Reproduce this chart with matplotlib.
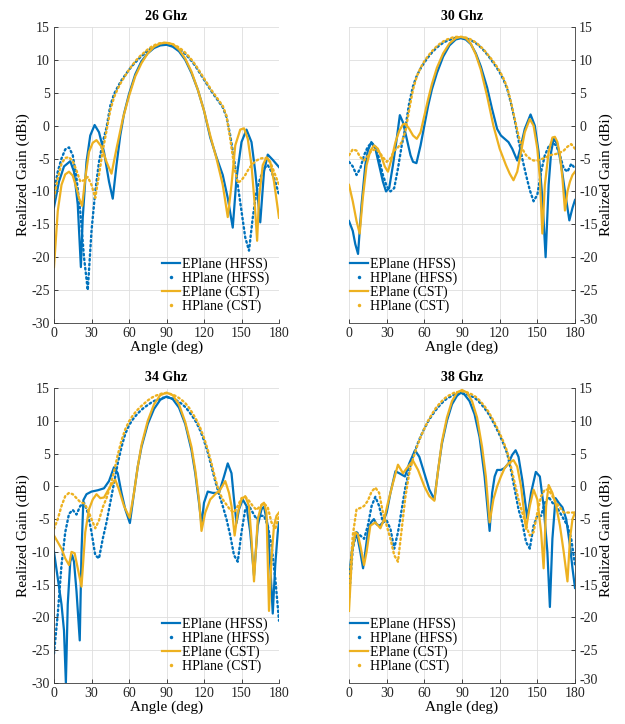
import numpy as np
import matplotlib
matplotlib.use('Agg')
import matplotlib.pyplot as plt
from matplotlib.lines import Line2D
from matplotlib.transforms import ScaledTranslation

# H-plane curves sampled every 3 degrees
h_angles = list(range(0, 181, 3))

# ---------------- 26 GHz ----------------
e26_hfss_ang = [0, 4, 8, 13, 16, 19, 21.5, 23, 26, 29,
                32.5, 36, 40, 44, 47, 50, 53, 56, 60, 65,
                70, 75, 80, 85, 90, 95, 100, 105, 110, 115,
                120, 125, 130, 135, 139, 143, 146, 150, 154, 158,
                161, 165, 168, 171, 175, 180]
e26_hfss = [-12.4, -8.5, -6.2, -5.4, -7, -12, -21.5, -14, -5.5, -1.5,
            0.1, -1, -4, -8.5, -11.1, -6, -1.5, 1.8, 4.8, 7.8,
            9.8, 11, 11.8, 12.2, 12.3, 12, 11.3, 10, 8, 5.5,
            2.3, -1.8, -4.8, -7.5, -11, -15.5, -8, -2.5, -0.6, -2.5,
            -7, -14.7, -7, -4.4, -5.2, -6.3]
e26_cst_ang = [0, 3, 6, 9, 12, 15, 18, 20, 22.5, 25,
               28, 31, 34, 38, 42, 46, 50, 55, 60, 65,
               70, 75, 80, 85, 90, 95, 100, 105, 110, 115,
               120, 125, 130, 135, 139, 142, 145, 149, 152, 155,
               158, 161, 162.5, 164, 167, 170, 173, 176, 180]
e26_cst = [-21.5, -13, -9, -7.4, -7, -7.6, -9.5, -11, -12.2, -8,
           -4, -2.6, -2.2, -3.2, -5.5, -7.3, -3.5, 1, 4.5, 7.5,
           9.5, 11, 12, 12.5, 12.6, 12.4, 11.6, 10.2, 8.2, 5.5,
           2.3, -1.5, -5, -9, -13.9, -9, -3, -0.6, -0.4, -2,
           -6, -13, -17.5, -11, -6, -4.8, -5.5, -8.5, -14]
h26_hfss = [-10, -7, -5, -3.6, -3.3, -4.5, -8, -13, -20, -25,
            -16, -10, -5.5, -2.5, -0.3, 3.0, 4.8, 5.9, 6.9, 7.7,
            8.5, 9.2, 9.8, 10.4, 10.9, 11.4, 11.8, 12.1, 12.3, 12.4,
            12.4, 12.3, 12.1, 11.8, 11.4, 10.9, 10.3, 9.6, 8.8, 7.9,
            7.0, 6.1, 5.2, 4.4, 3.6, 2.8, 1.3, -1.5, -5, -9,
            -13, -17, -19, -14, -10, -8, -6.5, -6, -7, -8.5,
            -10.5]
h26_cst = [-11, -8, -5.8, -4.9, -4.8, -5.4, -6.8, -8.5, -8.3, -7.8,
           -9, -11, -7.5, -3.8, -0.8, 2.3, 4.3, 5.6, 6.7, 7.6,
           8.5, 9.3, 10, 10.6, 11.1, 11.6, 12, 12.3, 12.5, 12.6,
           12.6, 12.5, 12.3, 12, 11.6, 11.1, 10.5, 9.8, 9, 8.1,
           7.2, 6.3, 5.4, 4.6, 3.8, 3, 1.5, -2, -6, -8.7,
           -8.3, -7.5, -6.5, -5.8, -5.3, -5, -4.9, -5, -6, -7.5,
           -9]

# ---------------- 30 GHz ----------------
e30_hfss_ang = [0, 3, 5, 7.2, 10, 13, 15, 17.8, 21, 24,
                27, 29.5, 32, 35, 38, 40.5, 43, 46, 49, 51,
                53.7, 57, 60, 63, 66, 70, 75, 80, 85, 89,
                93, 97, 101, 105, 110, 114, 118, 121, 124, 127,
                130, 134, 137, 140, 144.6, 148, 151, 154, 156.6, 159,
                161, 163, 166, 169, 172, 175.5, 178, 180]
e30_hfss = [-14.5, -16, -18, -19.5, -12, -6, -3.8, -2.5, -3.5, -6,
            -8.5, -10, -9.5, -6, -2, 1.6, 0.5, -2, -4.5, -5.5,
            -5.7, -3, 0, 3, 5.5, 8, 10.5, 12.2, 13.1, 13.3,
            13.1, 12.4, 11, 9, 5.8, 2.5, -0.5, -1.5, -2, -2.5,
            -3.5, -5.3, -3, -0.5, 1.7, 0, -4, -11, -20, -9,
            -4, -2, -2.8, -6, -10, -14.4, -12.5, -11.3]
e30_cst_ang = [0, 3, 6, 8.5, 11, 14, 17, 20, 23, 26,
               28.5, 31, 34, 37, 40, 43, 45, 48, 51, 54,
               57, 60, 63, 66, 70, 75, 80, 85, 89, 93,
               97, 101, 105, 110, 115, 120, 125, 128, 131, 134,
               137, 140, 144, 147, 150, 152, 154, 156, 159, 162,
               164, 166, 168, 170, 172, 174, 176, 178, 180]
e30_cst = [-9, -11.5, -14.5, -16.4, -11, -6, -3.8, -3, -3.5, -4.8,
           -6.2, -7, -5, -2.5, -0.8, 0.2, 0.3, -0.5, -1.5, -2,
           -1, 1.5, 4, 6.3, 8.8, 11, 12.5, 13.3, 13.5, 13.3,
           12.5, 10.8, 8.5, 4.5, 0, -3.5, -6, -7.3, -8.3, -7,
           -4, -1, 1, 0, -3.5, -8, -16.4, -9, -4, -1.8,
           -1.7, -2.5, -4.5, -8, -12.9, -10, -8.5, -7.5, -7]
h30_hfss = [-5.5, -6.2, -7.5, -6.5, -4.5, -3.2, -2.6, -3.2, -5, -7.5,
            -9.2, -10, -9.5, -6.5, -3, -0.2, 3.5, 6, 7.6, 8.7,
            9.6, 10.4, 11.1, 11.7, 12.2, 12.6, 12.9, 13.1, 13.3, 13.4,
            13.4, 13.3, 13.1, 12.8, 12.4, 11.9, 11.3, 10.6, 9.8, 9,
            8.1, 7, 5.6, 3.4, 0.8, -2.2, -5, -7.5, -9.8, -11.5,
            -10.5, -7, -4.5, -3.2, -2.6, -3, -4.5, -6.5, -7, -5.8,
            -6.5]
h30_cst = [-4.5, -3.6, -3.8, -4.8, -5.3, -4.6, -3.8, -3.6, -4, -4.8,
           -5.5, -5, -3.8, -3.3, -2.5, -0.8, 2.5, 5.5, 7.5, 8.8,
           9.8, 10.6, 11.3, 11.9, 12.4, 12.8, 13.1, 13.3, 13.5, 13.5,
           13.5, 13.4, 13.2, 12.9, 12.5, 12, 11.4, 10.7, 10, 9.2,
           8.3, 7.2, 5.8, 3.6, 1, -1.5, -3.5, -4.5, -5, -5.3,
           -5.3, -5.1, -4.9, -4.6, -4.4, -4.3, -4.1, -3.8, -3.2, -2.8,
           -3.5]

# ---------------- 34 GHz ----------------
e34_hfss_ang = [0, 3, 6, 8, 9.5, 11, 13, 14.5, 16, 18,
                20.6, 22, 23.5, 26, 30, 35, 40, 44, 48, 51,
                54, 57, 60.7, 64, 67, 70, 75, 80, 85, 90,
                95, 100, 105, 110, 113, 116, 118, 120, 123, 127,
                132, 136, 139, 142, 144, 146, 148, 151, 154, 157,
                160, 163, 166, 168, 171, 173, 175, 177, 179, 180]
e34_hfss = [-10, -14, -18, -22, -30, -18, -11.5, -10.5, -11.5, -16,
            -23.5, -10, -2.1, -1.2, -0.8, -0.6, -0.3, 0.8, 2.9, 2,
            -1, -3.5, -5.6, -1, 3, 6, 9.5, 11.8, 13.2, 13.7,
            13.3, 12, 9.5, 5.5, 2, -2.5, -5.8, -2.5, -0.8, -1,
            -1, 1.5, 3.5, 2, -2, -5.6, -3.5, -2, -3, -7,
            -13.6, -6, -3.5, -3.1, -6, -12, -19.4, -12, -7, -5.5]
e34_cst_ang = [0, 3, 6, 9, 12, 14, 16.5, 19, 22, 25,
               28, 31, 34, 37, 40, 45, 49, 52, 56, 60.5,
               64, 67, 70, 75, 80, 85, 90, 95, 100, 105,
               110, 113, 116, 118, 121, 125, 129, 133, 137, 140,
               142, 144.5, 147, 150, 153, 156, 158, 160, 163, 166,
               168, 170, 172, 174, 176, 178, 180]
e34_cst = [-7.5, -8.5, -9.5, -11, -12, -10, -10.2, -12.5, -15.3, -7,
           -3.5, -2, -1.2, -1.8, -1.7, 0, 1, -0.5, -3, -4.8,
           -1, 3, 6.3, 10, 12.5, 13.9, 14.3, 13.9, 12.5, 9.8,
           6, 2.5, -2, -6.8, -4, -2, -1.2, -0.5, 0.8, -1,
           -3, -7.5, -4, -2, -1.5, -3, -8, -14.5, -5, -2.8,
           -2.5, -4, -19, -11, -6, -4.5, -4]
h34_hfss = [-25.5, -19.5, -12, -7, -4.2, -3.6, -4.3, -3, -2.5, -4,
            -7, -10.5, -11, -8, -5.5, -2.5, 0.5, 3.5, 6, 8,
            9.3, 10.2, 10.9, 11.5, 12, 12.4, 12.8, 13.1, 13.3, 13.5,
            13.6, 13.5, 13.3, 13, 12.6, 12.1, 11.4, 10.6, 9.7, 8.5,
            7, 5.2, 3, 0.8, -1.2, -3, -5, -7.5, -10.5, -11.5,
            -7, -3.5, -3, -4, -5, -4.5, -4.5, -6, -9, -14,
            -20.5]
h34_cst = [-6.5, -5, -3, -1.5, -1, -1.2, -1.8, -2.4, -2.6, -3.5,
           -5, -6.4, -5.2, -3.2, -1.8, 0, 2.2, 4.8, 7, 8.7,
           9.9, 10.8, 11.5, 12.1, 12.6, 13.1, 13.5, 13.8, 14, 14.2,
           14.2, 14.1, 13.9, 13.6, 13.2, 12.7, 12, 11.1, 10.1, 8.9,
           7.4, 5.6, 3.5, 1.2, -0.8, -2, -2.8, -3.6, -4, -3,
           -1.8, -1.6, -2.2, -3, -3.6, -3, -2.6, -3.2, -5.5, -6.5,
           -4.5]

# ---------------- 38 GHz ----------------
e38_hfss_ang = [0, 2.5, 5, 7, 9, 11.2, 13, 15, 17.5, 19.8,
                22, 24.5, 27, 30, 33, 37, 40, 44.6, 48, 52.6,
                56, 60, 64, 68, 71, 74, 78, 82, 86, 89,
                92, 96, 100, 104, 108, 112, 114, 116, 118, 121,
                124, 127, 130, 132.7, 135, 138, 142, 145, 148.8, 152,
                155, 158, 160, 162, 164.5, 167, 170, 173, 176, 178,
                180]
e38_hfss = [-14, -9.5, -7.4, -8, -10, -12.5, -10, -7, -5.5, -5,
            -5.8, -6, -5.5, -4, -1, 2.3, 2, 1.5, 3.5, 5.5,
            4.5, 2, -0.5, -2, 2.5, 6.5, 10, 12.5, 13.8, 14.3,
            14, 13, 11, 7.5, 1.5, -6.8, -1, 1.5, 2.5, 2.5,
            2.8, 3.5, 4.8, 5.5, 4.5, 1, -4.9, -1, 2.2, 1.5,
            -3, -10, -18.4, -8, -1.8, -2.5, -3.2, -5, -9, -12.5,
            -15.5]
e38_cst_ang = [0, 2.5, 5, 7, 9, 12, 14, 17, 21, 25,
               28, 31, 35, 39, 43, 47, 51, 55, 60, 64,
               68, 71, 74, 78, 82, 86, 90, 94, 98, 102,
               106, 109, 112, 115, 118, 121, 124, 127, 131, 134,
               137, 141, 144, 147, 150, 153, 155, 157, 159, 162,
               165, 168, 171, 174, 176, 178, 180]
e38_cst = [-19, -10, -7, -7.3, -9, -12, -10, -6, -5.5, -6.4,
           -5, -2.5, 0.5, 3.3, 2, 3, 3.9, 2.5, 0, -1.5,
           -2.2, 2.5, 6.8, 10.5, 13, 14.3, 14.7, 14.3, 13, 10.5,
           6, 1.5, -5.5, -2, 0, 1.5, 2.8, 3.5, 4, 3,
           0, -6.5, -3, -0.5, -2, -7, -12.5, -3, 0.2, -1,
           -3, -6, -10, -14.5, -8, -5, -4]
h38_hfss = [-17, -9.5, -7, -7.5, -8, -6, -3, -1.6, -3, -5.5,
            -5.2, -6.5, -9.5, -7, -3.5, 0, 2.5, 4.5, 6.2, 7.6,
            8.8, 9.9, 10.8, 11.6, 12.3, 12.9, 13.4, 13.7, 14, 14.1,
            14.2, 14.1, 13.9, 13.6, 13.2, 12.6, 11.9, 11.1, 10.1, 9,
            7.8, 6.5, 5, 2.5, -0.5, -3.5, -5.5, -8.5, -9.5, -6,
            -4.5, -4.5, -2.5, -1.6, -2.5, -3, -4, -5, -6, -8,
            -12]
h38_cst = [-16, -7.5, -3.5, -3.3, -3, -2.2, -0.8, -0.2, -1, -4,
           -6, -8, -10.5, -11.5, -6.5, -1.5, 2, 4.2, 6, 7.5,
           8.8, 10, 11, 11.9, 12.6, 13.2, 13.7, 14, 14.3, 14.4,
           14.5, 14.4, 14.2, 13.9, 13.5, 12.9, 12.2, 11.4, 10.4, 9.3,
           8.1, 6.8, 5.3, 3, 0.5, -2, -4, -6, -7.5, -7,
           -4, -1.5, -0.5, -0.5, -1.5, -2.5, -3.2, -4, -4, -4,
           -4]

labels = ['EPlane (HFSS)', 'HPlane (HFSS)', 'EPlane (CST)', 'HPlane (CST)']
blue = '#0072BD'
gold = '#EDB120'

plt.rcParams['font.family'] = ['Liberation Serif', 'DejaVu Serif']
plt.rcParams['axes.unicode_minus'] = False


def draw_panel(ax, title, e_h_ang, e_h, e_c_ang, e_c, h_h, h_c, right, leg_loc):
    ax.plot(e_h_ang, e_h, '-', color=blue, lw=1.6)
    ax.plot(h_angles, h_h, color=blue, lw=1.7, dashes=(0.7, 1.3),
            dash_capstyle='round')
    ax.plot(e_c_ang, e_c, '-', color=gold, lw=1.6)
    ax.plot(h_angles, h_c, color=gold, lw=1.7, dashes=(0.7, 1.3),
            dash_capstyle='round')
    ax.set_xlim(0, 180)
    ax.set_ylim(-30, 15)
    ax.set_xticks(np.arange(0, 181, 30))
    ax.set_yticks(np.arange(-30, 16, 5))
    ax.grid(True, color='#dedede', lw=0.6)
    ax.set_axisbelow(True)
    ax.tick_params(direction='in', length=3, width=0.6, labelsize=10,
                   colors='#262626', pad=3)
    ax.set_title(title, fontsize=10, fontweight='bold', pad=5)
    ax.set_xlabel('Angle (deg)', fontsize=11, labelpad=0)
    ax.set_ylabel('Realized Gain (dBi)', fontsize=11, labelpad=1)
    for s in ax.spines.values():
        s.set_visible(False)
    side = 'right' if right else 'left'
    for name in ('bottom', side):
        ax.spines[name].set_visible(True)
        ax.spines[name].set_color('#3a3a3a')
        ax.spines[name].set_linewidth(0.6)
    if right:
        ax.yaxis.tick_right()
        ax.yaxis.set_label_position('right')
        # lift the bottom label a little so it clears the 180 tick label
        lab = ax.get_yticklabels()[0]
        lab.set_transform(lab.get_transform() +
                          ScaledTranslation(0, 3 / 72, ax.figure.dpi_scale_trans))
    handles = [Line2D([], [], color=blue, lw=1.6),
               Line2D([], [], color=blue, ls='none', marker='o', ms=2.5, mew=0),
               Line2D([], [], color=gold, lw=1.6),
               Line2D([], [], color=gold, ls='none', marker='o', ms=2.5, mew=0)]
    anchor = (1.0, 0.0) if leg_loc == 'lower right' else (-0.04, 0.0)
    ax.legend(handles, labels, loc=leg_loc, bbox_to_anchor=anchor,
              frameon=False, fontsize=10, handlelength=1.3,
              handletextpad=0.15, labelspacing=0.05, borderaxespad=0.3,
              numpoints=1)


fig = plt.figure(figsize=(6.25, 7.24), dpi=100)
ax1 = fig.add_axes([0.0864, 0.5539, 0.360, 0.4088])
ax2 = fig.add_axes([0.5584, 0.5539, 0.3616, 0.4088])
ax3 = fig.add_axes([0.0864, 0.0566, 0.360, 0.4075])
ax4 = fig.add_axes([0.5584, 0.0566, 0.3616, 0.4075])

draw_panel(ax1, '26 Ghz', e26_hfss_ang, e26_hfss, e26_cst_ang, e26_cst,
           h26_hfss, h26_cst, False, 'lower right')
draw_panel(ax2, '30 Ghz', e30_hfss_ang, e30_hfss, e30_cst_ang, e30_cst,
           h30_hfss, h30_cst, True, 'lower left')
draw_panel(ax3, '34 Ghz', e34_hfss_ang, e34_hfss, e34_cst_ang, e34_cst,
           h34_hfss, h34_cst, False, 'lower right')
draw_panel(ax4, '38 Ghz', e38_hfss_ang, e38_hfss, e38_cst_ang, e38_cst,
           h38_hfss, h38_cst, True, 'lower left')

fig.savefig('out.png', dpi=100)
